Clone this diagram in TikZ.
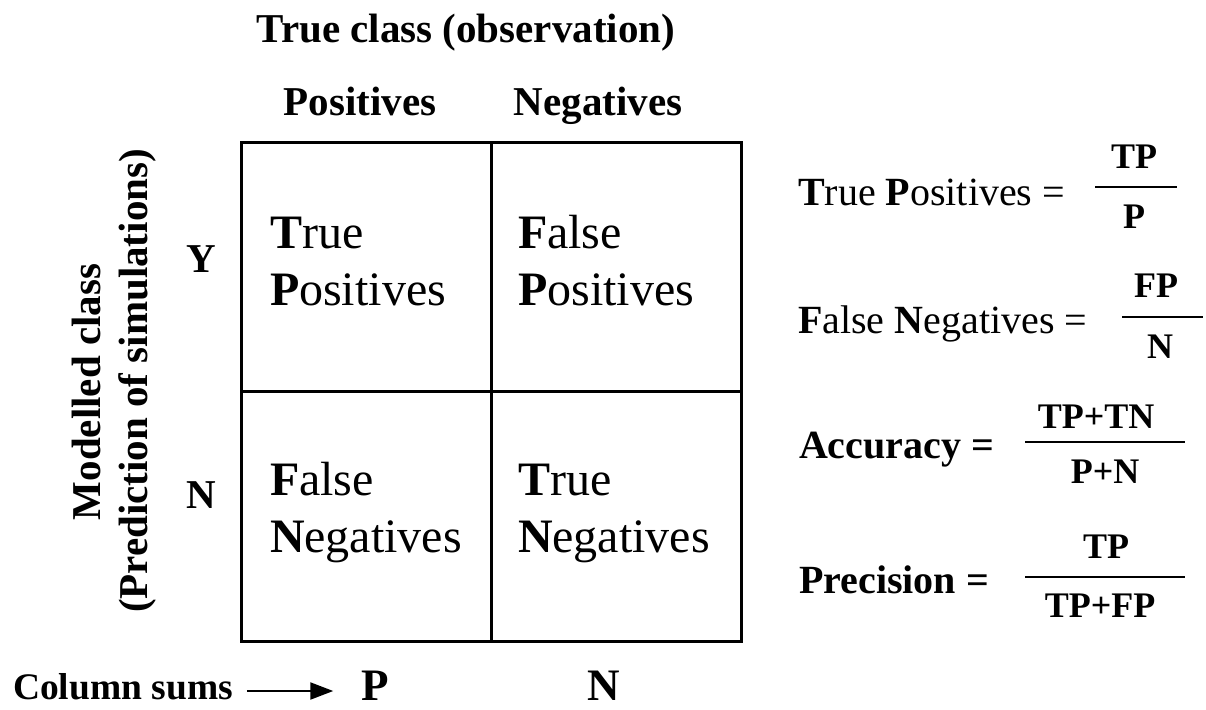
\documentclass[tikz,border=0pt]{standalone}
\usepackage{fontspec}
\setmainfont{Liberation Serif}
\usetikzlibrary{arrows.meta}
\begin{document}
\begin{tikzpicture}[x=1pt,y=-1pt,
  txt/.style={inner sep=0pt, outer sep=0pt},
  hdr/.style={txt, anchor=base, font=\fontsize{41}{49}\selectfont\bfseries},
  cell/.style={txt, anchor=base west, font=\fontsize{48}{57}\selectfont},
  lbl/.style={txt, anchor=base west, font=\fontsize{40}{48}\selectfont},
  blbl/.style={txt, anchor=base west, font=\fontsize{40}{48}\selectfont\bfseries},
  fracpart/.style={txt, anchor=base, font=\fontsize{36}{43}\selectfont\bfseries},
  sumlbl/.style={txt, anchor=base, font=\fontsize{45}{54}\selectfont\bfseries},
  gridline/.style={line width=3pt},
  fracline/.style={line width=2pt},
  sumarrow/.style={line width=2.2pt, -{Triangle[length=23pt,width=17pt]}}
]
\useasboundingbox (0,0) rectangle (1206,709);

% matrix
\draw[gridline] (241,142) rectangle (741,641);
\draw[gridline] (491,142) -- (491,641);
\draw[gridline] (241,391) -- (741,391);

% headers
\node[hdr] (title) at (466,43) {True class (observation)};
\node[hdr] (hpos) at (360,115) {Positives};
\node[hdr] (hneg) at (598,115) {Negatives};

% rotated label
\node[hdr, rotate=90] (mod1) at (100,392) {Modelled class};
\node[hdr, rotate=90] (mod2) at (147,381) {(Prediction of simulations)};
\node[hdr] (rowY) at (201,272) {Y};
\node[hdr] (rowN) at (201,508) {N};

% cells
\node[cell] (tpA) at (270,248) {\textbf{T}rue};
\node[cell] (tpB) at (270,305) {\textbf{P}ositives};
\node[cell] (fpA) at (518,248) {\textbf{F}alse};
\node[cell] (fpB) at (518,305) {\textbf{P}ositives};
\node[cell] (fnA) at (270,495) {\textbf{F}alse};
\node[cell] (fnB) at (270,552) {\textbf{N}egatives};
\node[cell] (tnA) at (518,495) {\textbf{T}rue};
\node[cell] (tnB) at (518,552) {\textbf{N}egatives};

% formulas
\node[lbl] (ftp) at (798,205) {\textbf{T}rue \textbf{P}ositives =};
\draw[fracline] (1095,187) -- (1177,187);
\node[fracpart] (ftpn) at (1134,168) {TP};
\node[fracpart] (ftpd) at (1134,228) {P};

\node[lbl] (ffn) at (798,333) {\textbf{F}alse \textbf{N}egatives =};
\draw[fracline] (1122,317) -- (1203,317);
\node[fracpart] (ffnn) at (1156,297) {FP};
\node[fracpart] (ffnd) at (1160,358) {N};

\node[blbl] (facc) at (799,458) {Accuracy =};
\draw[fracline] (1025,442) -- (1185,442);
\node[fracpart] (faccn) at (1096,428) {TP+TN};
\node[fracpart] (faccd) at (1105,483) {P+N};

\node[blbl] (fpre) at (799,593) {Precision =};
\draw[fracline] (1025,577) -- (1185,577);
\node[fracpart] (fpren) at (1106,558) {TP};
\node[fracpart] (fpred) at (1100,617) {TP+FP};

% column sums
\node[txt, anchor=base west, font=\fontsize{37.5}{45}\selectfont\bfseries] (cs) at (13,699) {Column sums};
\node[sumlbl] (sumP) at (375,700) {P};
\node[sumlbl] (sumN) at (604,700) {N};
\draw[sumarrow] ([shift={(14,-8)}]cs.base east) -- ([shift={(-28,-9)}]sumP.base west);
\end{tikzpicture}
\end{document}
